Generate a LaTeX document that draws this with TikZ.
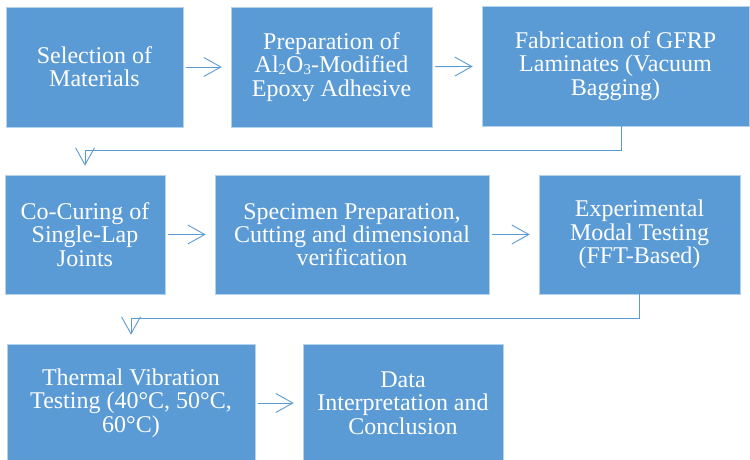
\documentclass[tikz,border=0pt]{standalone}
\usepackage{fontspec}
\setmainfont{Liberation Serif}
\usetikzlibrary{arrows.meta, positioning}
\definecolor{stageblue}{RGB}{91, 155, 213}
\newcommand{\lowidx}[1]{\raisebox{-1.5pt}{\fontsize{15}{15}\selectfont #1}}

\begin{document}
\begin{tikzpicture}[x=1pt, y=-1pt,
  stage/.style={draw=white!55!stageblue, line width=0.6pt, fill=stageblue, text=white,
    align=center, inner sep=0pt, font=\fontsize{24}{23.3}\selectfont},
  flow/.style={draw=stageblue, line width=0.9pt, shorten <=3pt, shorten >=9pt,
    -{Straight Barb[length=17pt, width=19pt]}}]
  \useasboundingbox (0,0) rectangle (750,460);

  % first row
  \node[stage, minimum width=177pt, minimum height=120pt] (select) at (94.5,67) {Selection of\\Materials};
  \node[stage, minimum width=201pt, minimum height=120pt] (adhesive) at (331.5,67) {Preparation of\\Al\lowidx{2}O\lowidx{3}-Modified\\Epoxy Adhesive};
  \node[stage, minimum width=267pt, minimum height=120pt] (gfrp) at (615.5,66) {Fabrication of GFRP\\Laminates (Vacuum\\Bagging)};

  % second row
  \node[stage, minimum width=160pt, minimum height=119pt] (cocure) at (85,234.5) {Co-Curing of\\Single-Lap\\Joints};
  \node[stage, minimum width=274pt, minimum height=119pt] (specimen) at (352,234.5) {Specimen Preparation,\\Cutting and dimensional\\verification};
  \node[stage, minimum width=201pt, minimum height=119pt] (modal) at (639.5,234.5) {Experimental\\Modal Testing\\(FFT-Based)};

  % third row
  \node[stage, minimum width=248pt, minimum height=118pt] (thermal) at (131,403) {Thermal Vibration\\Testing (40°C, 50°C,\\60°C)};
  \node[stage, minimum width=200pt, minimum height=118pt] (data) at (403,403) {Data\\Interpretation and\\Conclusion};

  \draw[flow] (select) -- (adhesive);
  \draw[flow] (adhesive) -- (gfrp);
  \draw[flow, shorten <=0pt] ([xshift=5.5pt]gfrp.south) -- ++(0,24) -| (cocure.north);
  \draw[flow] (cocure) -- (specimen);
  \draw[flow] (specimen) -- (modal);
  \draw[flow, shorten <=0pt] (modal.south) -- ++(0,24) -| (thermal.north);
  \draw[flow] (thermal) -- (data);
\end{tikzpicture}
\end{document}
